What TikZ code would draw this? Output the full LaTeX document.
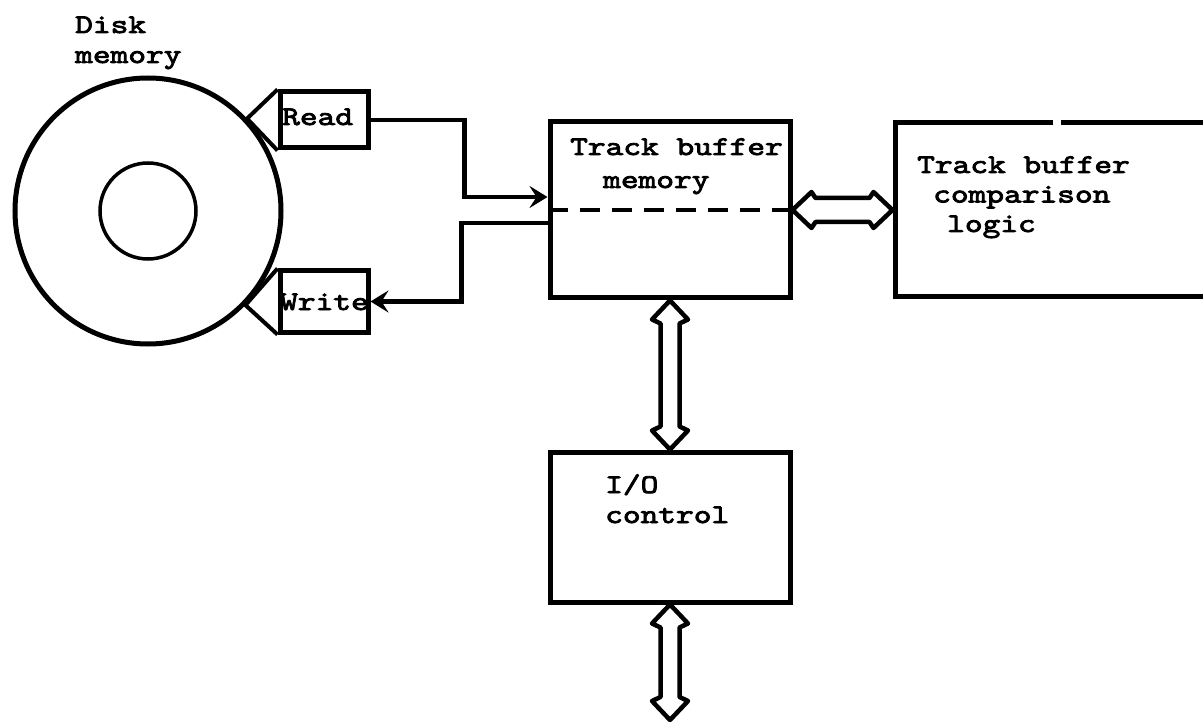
\documentclass[tikz,border=0pt]{standalone}
\usepackage{fontspec}
\newfontfamily\tw{lmmono10-regular}[Extension=.otf, FakeStretch=1.25, FakeBold=3]
\usetikzlibrary{arrows.meta,calc,positioning}
\tikzset{wire/.style={line width=4.5pt, -{Stealth[length=18pt,width=22pt,inset=7pt]}},
  blk/.style={draw, line width=5pt, inner sep=0pt},
  txt/.style={inner sep=0pt, align=left, anchor=base west,
    font=\tw\fontsize{27}{30}\selectfont}}
\newcommand{\bus}[3][9.5pt]{%
  \draw[line width=4.5pt, line join=round] (#2)
    -- ($(#2)!19pt!(#3)!18pt!90:(#3)$) -- ($(#2)!23pt!(#3)!#1!90:(#3)$)
    -- ($(#3)!23pt!(#2)!#1!-90:(#2)$) -- ($(#3)!19pt!(#2)!18pt!-90:(#2)$)
    -- (#3)
    -- ($(#3)!19pt!(#2)!18pt!90:(#2)$) -- ($(#3)!23pt!(#2)!#1!90:(#2)$)
    -- ($(#2)!23pt!(#3)!#1!-90:(#3)$) -- ($(#2)!19pt!(#3)!18pt!-90:(#3)$)
    -- cycle;}

\begin{document}
\begin{tikzpicture}[x=1pt, y=-1pt]
  \useasboundingbox (0,0) rectangle (1203,722);
  \clip (0,0) rectangle (1203,722);
  \node[draw, circle, line width=5pt, minimum size=266pt, inner sep=0pt] (disk) at (148,211) {};
  \node[draw, circle, line width=3.5pt, minimum size=96pt, inner sep=0pt] at (disk.center) {};
  \node[blk, minimum width=88pt, minimum height=56pt] (rd) at (324,120) {};
  \node[blk, minimum width=88pt, minimum height=61pt] (wr) at (324,301.5) {};
  \node[blk, minimum width=240pt, minimum height=176pt] (mem) at (670,210) {};
  \node[blk, minimum width=355pt, minimum height=174pt] (cmp) at (1072.5,210) {};
  \node[blk, minimum width=240pt, minimum height=150pt] (io) at (670,527) {};
  \coordinate (ext) at (670,720);
  \draw[line width=4pt, line join=round] (rd.north west) -- (disk.43) -- (rd.south west);
  \draw[line width=4pt, line join=round] (wr.north west) -- (disk.-44) -- (wr.south west);
  \draw[white, line width=7pt] (1053,123) -- (1061,123);
  \draw[line width=4pt, dash pattern=on 20pt off 12pt] (mem.west) -- (mem.east);
  \node[txt] at (75,63) {Disk\\memory};
  \node[txt] at (282,125) {Read};
  \node[txt] at (280,310) {Write};
  \node[txt, font=\tw\fontsize{27}{33}\selectfont] at (570,188) {Track buffer\\\hspace*{33pt}memory};
  \node[txt, font=\tw\fontsize{27}{29.5}\selectfont] at (917,232) {Track buffer\\\hspace*{16pt}comparison\\\hspace*{30pt}logic};
  \node[txt] at (605,523) {I/O\\control};
  \draw[wire] (rd.east) -- ++(94,0) |- ([yshift=13pt]mem.west);
  \draw[wire] ([yshift=-13pt]mem.west) -- ++(-86,0) |- (wr.east);
  \bus[12pt]{mem.east}{cmp.west}
  \bus{mem.south}{io.north}
  \bus{io.south}{ext}
\end{tikzpicture}
\end{document}
